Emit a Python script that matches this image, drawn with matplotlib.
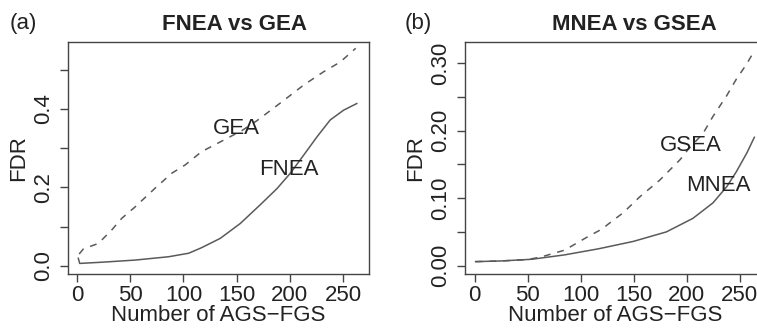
import numpy as np
import matplotlib.pyplot as plt

plt.rcParams['font.family'] = ['Liberation Sans', 'DejaVu Sans']

# panel (a): FNEA vs GEA
a_x = [1.2, 2.5, 23, 54.5, 86, 105, 117, 134.7, 153.5, 172, 188, 200.5, 213,
       225.6, 238, 250.6, 263]
a_fnea = [0.019, 0.006, 0.009, 0.0145, 0.023, 0.032, 0.046, 0.070, 0.108, 0.155,
          0.197, 0.236, 0.282, 0.329, 0.372, 0.397, 0.414]
a_gx = [2, 6, 20, 32.5, 42, 54.5, 73, 89, 101.5, 117, 136, 155, 169, 191, 213,
        231.8, 247.5, 262]
a_gea = [0.030, 0.043, 0.057, 0.091, 0.121, 0.150, 0.197, 0.236, 0.257, 0.291,
         0.318, 0.345, 0.370, 0.415, 0.461, 0.495, 0.520, 0.555]

# panel (b): MNEA vs GSEA
b_x = [1, 25, 54, 85, 117, 150, 181, 206, 225, 238, 247, 257, 264]
b_mnea = [0.006, 0.007, 0.0095, 0.016, 0.025, 0.036, 0.050, 0.070, 0.093, 0.117,
          0.139, 0.167, 0.190]
b_gx = [1, 25, 50, 63, 85, 107, 120, 129, 140, 156, 175, 194, 201.5, 215.7, 225,
        237.7, 247, 256.6, 264]
b_gsea = [0.006, 0.007, 0.009, 0.013, 0.023, 0.043, 0.054, 0.065, 0.078, 0.102,
          0.127, 0.157, 0.172, 0.196, 0.221, 0.251, 0.276, 0.298, 0.318]

line_col = '#5a5a5a'
txt_col = '#222222'
fs = 16

fig = plt.figure(figsize=(7.57, 3.32), dpi=100)
ax1 = fig.add_axes([68 / 757, 1 - 274 / 332, 301 / 757, 232 / 332])
ax2 = fig.add_axes([465 / 757, 1 - 274 / 332, 301 / 757, 232 / 332])


def style(ax, yt, ylab):
    for s in ax.spines.values():
        s.set_color('#444444')
        s.set_linewidth(1.0)
    ax.set_xticks([0, 50, 100, 150, 200, 250])
    ax.set_yticks(yt)
    ax.set_yticklabels(ylab, rotation=90, va='center')
    ax.tick_params(length=6, width=1.0, color='#444444', labelsize=fs,
                   labelcolor=txt_col, pad=2)
    ax.tick_params(axis='y', pad=4)
    ax.set_xlabel('Number of AGS\u2212FGS', fontsize=fs, color=txt_col, labelpad=-1)
    ax.set_ylabel('FDR', fontsize=fs, color=txt_col, labelpad=3)


ax1.plot(a_x, a_fnea, color=line_col, lw=1.1)
ax1.plot(a_gx, a_gea, color=line_col, lw=1.1, dashes=(4.5, 4.5))
ax1.set_xlim(-8.5, 274.5)
ax1.set_ylim(-0.021, 0.571)
style(ax1, [0, 0.1, 0.2, 0.3, 0.4, 0.5], ['0.0', '', '0.2', '', '0.4', ''])
ax1.text(150, 0.35, 'GEA', fontsize=fs, color=txt_col, ha='center', va='center')
ax1.text(199, 0.246, 'FNEA', fontsize=fs, color=txt_col, ha='center', va='center')
fig.text(235 / 757, 1 - 24 / 332, 'FNEA vs GEA', fontsize=fs, fontweight='bold',
         color=txt_col, ha='center', va='center')
fig.text(10 / 757, 1 - 24 / 332, '(a)', fontsize=fs, color=txt_col, va='center')

ax2.plot(b_x, b_mnea, color=line_col, lw=1.1)
ax2.plot(b_gx, b_gsea, color=line_col, lw=1.1, dashes=(4.5, 4.5))
ax2.set_xlim(-9.0, 275.0)
ax2.set_ylim(-0.0123, 0.331)
style(ax2, [0, 0.05, 0.1, 0.15, 0.2, 0.25, 0.3],
      ['0.00', '', '0.10', '', '0.20', '', '0.30'])
ax2.text(204, 0.178, 'GSEA', fontsize=fs, color=txt_col, ha='center', va='center')
ax2.text(230, 0.118, 'MNEA', fontsize=fs, color=txt_col, ha='center', va='center')
fig.text(634 / 757, 1 - 24 / 332, 'MNEA vs GSEA', fontsize=fs, fontweight='bold',
         color=txt_col, ha='center', va='center')
fig.text(405 / 757, 1 - 24 / 332, '(b)', fontsize=fs, color=txt_col, va='center')

fig.savefig('out.png', dpi=100)
